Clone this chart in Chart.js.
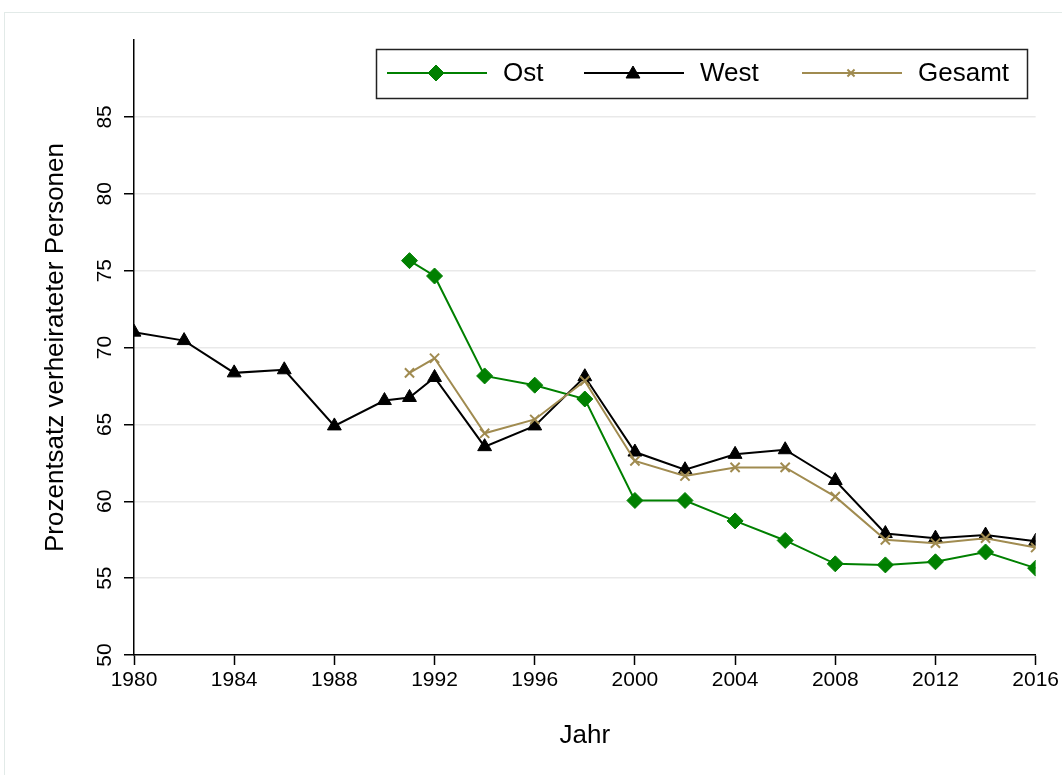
<!DOCTYPE html>
<html lang="de">
<head>
  <meta charset="UTF-8" />
  <title>Verheiratete Personen</title>
  <script src="https://cdn.jsdelivr.net/npm/chart.js@4.4.1/dist/chart.umd.min.js"></script>
  <style>
    body { margin: 0; background: #fff; }
    #wrap { position: relative; width: 1062px; height: 775px; overflow: hidden; }
    #frame { position: absolute; left: 4px; top: 12px; width: 1100px; height: 800px;
      border-left: 1px solid #e2eae8; border-top: 1px solid #e2eae8; pointer-events: none; }
  </style>
</head>
<body>
  <div id="wrap">
    <canvas id="chart" width="1062" height="775"></canvas>
    <div id="frame"></div>
  </div>

  <script>
    // values
    const westYears = [1980, 1982, 1984, 1986, 1988, 1990, 1991, 1992, 1994, 1996, 1998,
      2000, 2002, 2004, 2006, 2008, 2010, 2012, 2014, 2016];
    const west = [71.0, 70.45, 68.35, 68.55, 64.9, 66.55, 66.75, 68.05, 63.55, 64.9, 68.1,
      63.2, 62.05, 63.05, 63.35, 61.35, 57.9, 57.6, 57.8, 57.4];

    const ostYears = [1991, 1992, 1994, 1996, 1998, 2000, 2002, 2004, 2006, 2008, 2010, 2012, 2014, 2016];
    const ost = [75.65, 74.65, 68.15, 67.55, 66.65, 60.05, 60.05, 58.72, 57.45, 55.93, 55.86, 56.06, 56.7, 55.65];
    const gesamt = [68.35, 69.3, 64.42, 65.32, 67.83, 62.62, 61.64, 62.2, 62.2, 60.3, 57.49, 57.27, 57.6, 56.99];

    const yTicks = [50, 55, 60, 65, 70, 75, 80, 85];
    const xTicks = [1980, 1984, 1988, 1992, 1996, 2000, 2004, 2008, 2012, 2016];

    const FONT = "'Liberation Sans', Arial, sans-serif";
    const GREEN = "#008000";
    const KHAKI = "#a08b50";

    function pts(xs, ys) {
      return xs.map((x, i) => ({ x: x, y: ys[i] }));
    }

    // Stata style legend: boxed, line with marker, then label
    const boxLegend = {
      id: "boxLegend",
      afterDraw(chart) {
        const ctx = chart.ctx;
        const items = [
          { ds: chart.data.datasets[0], x: 387 },
          { ds: chart.data.datasets[1], x: 584 },
          { ds: chart.data.datasets[2], x: 802 },
        ];
        const y = 73;
        ctx.save();
        ctx.strokeStyle = "#222";
        ctx.lineWidth = 1.5;
        ctx.strokeRect(376.5, 49.5, 651, 49);
        items.forEach((it) => {
          const ds = it.ds;
          ctx.strokeStyle = ds.borderColor;
          ctx.lineWidth = ds.borderWidth;
          ctx.beginPath();
          ctx.moveTo(it.x, y);
          ctx.lineTo(it.x + 100, y);
          ctx.stroke();
          ctx.fillStyle = ds.pointBackgroundColor;
          ctx.strokeStyle = ds.pointBorderColor;
          ctx.lineWidth = ds.pointBorderWidth;
          Chart.helpers.drawPoint(ctx, {
            pointStyle: ds.pointStyle,
            radius: ds.pointStyle === "crossRot" ? 5 : ds.pointRadius,
            rotation: 0,
            borderWidth: ds.pointBorderWidth,
          }, it.x + 49, ds.pointStyle === "triangle" ? y + 1 : y);
          ctx.fillStyle = "#000";
          ctx.font = "26px " + FONT;
          ctx.textBaseline = "middle";
          ctx.textAlign = "left";
          ctx.fillText(ds.label, it.x + 116, y + 1);
        });
        ctx.restore();
      },
    };

    const chart = new Chart(document.getElementById("chart").getContext("2d"), {
      type: "line",
      data: {
        datasets: [
          {
            label: "Ost",
            data: pts(ostYears, ost),
            borderColor: GREEN,
            borderWidth: 2,
            pointStyle: "rectRot",
            pointRadius: 8,
            pointBackgroundColor: GREEN,
            pointBorderColor: GREEN,
            pointBorderWidth: 1,
            order: 2,
          },
          {
            label: "West",
            data: pts(westYears, west),
            borderColor: "#000",
            borderWidth: 2,
            pointStyle: "triangle",
            pointRadius: 8,
            pointBackgroundColor: "#000",
            pointBorderColor: "#000",
            pointBorderWidth: 1,
            order: 1,
          },
          {
            label: "Gesamt",
            data: pts(ostYears, gesamt),
            borderColor: KHAKI,
            borderWidth: 2,
            pointStyle: "crossRot",
            pointRadius: 6.5,
            pointBackgroundColor: KHAKI,
            pointBorderColor: KHAKI,
            pointBorderWidth: 2,
            order: 0,
          },
        ],
      },
      options: {
        responsive: false,
        animation: false,
        devicePixelRatio: 1,
        layout: { padding: { top: 40, right: 25, left: 0, bottom: 0 } },
        plugins: {
          legend: { display: false },
          tooltip: { enabled: false },
        },
        scales: {
          x: {
            type: "linear",
            min: 1980,
            max: 2016,
            afterBuildTicks: (s) => { s.ticks = xTicks.map((v) => ({ value: v })); },
            afterFit: (s) => { s.height = 120; },
            ticks: {
              callback: (v) => String(v),
              color: "#000",
              font: { family: FONT, size: 21 },
              padding: 3,
              maxRotation: 0,
            },
            grid: { drawOnChartArea: false, drawTicks: true, tickLength: 10, tickColor: "#000", tickWidth: 1.5 },
            border: { display: true, color: "#000", width: 1.5 },
            title: {
              display: true,
              text: "Jahr",
              color: "#000",
              font: { family: FONT, size: 26 },
              padding: { top: 0, bottom: 24 },
            },
          },
          y: {
            min: 50,
            max: 90,
            afterBuildTicks: (s) => { s.ticks = yTicks.map((v) => ({ value: v })); },
            afterFit: (s) => { s.width = 134; },
            ticks: {
              color: "#000",
              font: { family: FONT, size: 21 },
              minRotation: 90,
              maxRotation: 90,
              crossAlign: "center",
              padding: 7,
            },
            grid: {
              color: (c) => (c.tick && c.tick.value === 50 ? "rgba(0,0,0,0)" : "#e9e9e9"),
              lineWidth: 1.5,
              drawTicks: true,
              tickLength: 10,
              tickColor: "#000",
              tickWidth: 1.5,
            },
            border: { display: true, color: "#000", width: 1.5 },
            title: {
              display: true,
              text: "Prozentsatz verheirateter Personen",
              color: "#000",
              font: { family: FONT, size: 26 },
              padding: { top: 40, bottom: 0 },
            },
          },
        },
      },
      plugins: [boxLegend],
    });
  </script>
</body>
</html>
